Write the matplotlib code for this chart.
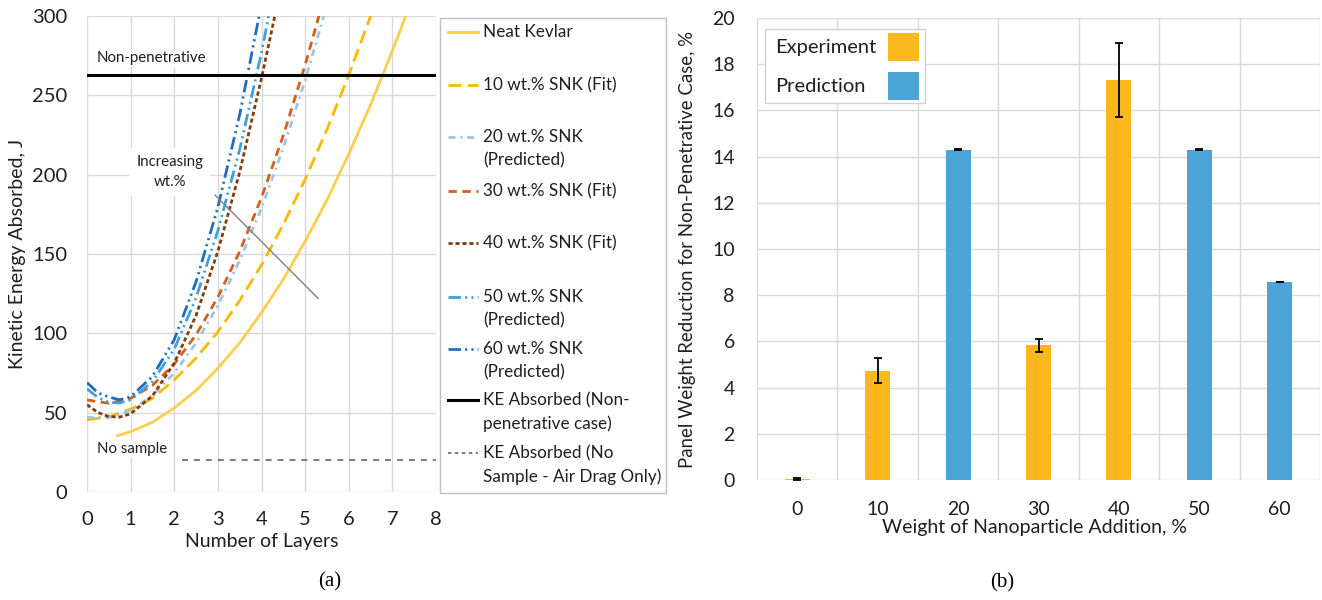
import matplotlib
matplotlib.use("Agg")
import matplotlib.pyplot as plt
from matplotlib.patches import Rectangle
import numpy as np

plt.rcParams["font.family"] = ["Lato", "DejaVu Sans"]
plt.rcParams["lines.scale_dashes"] = False

# ---- panel (a): kinetic energy absorbed vs number of layers ----
neat_x = [0.7, 1, 1.5, 2, 2.5, 3, 3.5, 4, 4.5, 5, 5.5, 6, 6.5, 7, 7.5]
neat_ke = [35.5, 38, 44, 53, 64, 78, 94, 113, 134, 158, 184, 213, 244, 278, 314]

wt10_x = [0, 0.5, 1, 1.5, 2, 2.5, 3, 3.5, 4, 4.5, 5, 5.5, 6, 6.5, 7]
wt10_ke = [45.5, 47.4, 52.2, 59.0, 70.7, 84.4, 101.0, 120.6, 143.1, 168.6, 197.0, 228.4, 262.7, 300.0, 340]

wt20_x = [0, 0.5, 1, 1.5, 2, 2.5, 3, 3.5, 4, 4.5, 5, 5.5]
wt20_ke = [47, 46.9, 51.5, 60.9, 75, 93.9, 117.5, 145.9, 179, 216.9, 259.5, 306.9]

wt30_x = [0, 0.5, 1, 1.5, 2, 2.5, 3, 3.5, 4, 4.5, 5, 5.5]
wt30_ke = [58, 55.9, 59, 67.2, 80.6, 99.1, 122.8, 151.6, 185.6, 224.7, 269, 318]

wt40_x = [0, 0.25, 0.5, 0.75, 1, 1.5, 2, 2.5, 3, 3.5, 4, 4.5]
wt40_ke = [55, 50.1, 47.5, 47.2, 49.3, 60.6, 81.2, 111.3, 151.7, 201.6, 260.8, 325]

wt50_x = [0, 0.25, 0.5, 0.75, 1, 1.5, 2, 2.5, 3, 3.5, 4, 4.5]
wt50_ke = [65, 59.5, 56.6, 56.1, 58.1, 69.6, 90, 122.4, 164.7, 215.9, 277, 347]

wt60_x = [0, 0.25, 0.5, 0.75, 1, 1.5, 2, 2.5, 3, 3.5, 4, 4.5]
wt60_ke = [69, 62.5, 59.9, 58.1, 60.1, 72.8, 96, 132.5, 179.5, 237.8, 307.6, 389]

nonpen_ke = 263
air_drag_ke = 20
air_drag_x = [2.17, 8]
trend_x = [2.94, 5.3]
trend_ke = [187, 122]

legend_a = ["Neat Kevlar", "10 wt.% SNK (Fit)", "20 wt.% SNK\n(Predicted)",
            "30 wt.% SNK (Fit)", "40 wt.% SNK (Fit)", "50 wt.% SNK\n(Predicted)",
            "60 wt.% SNK\n(Predicted)", "KE Absorbed (Non-\npenetrative case)",
            "KE Absorbed (No\nSample - Air Drag Only)"]

# ---- panel (b): panel weight reduction ----
wt_labels = ["0", "10", "20", "30", "40", "50", "60"]
reduction = [0.05, 4.73, 14.3, 5.84, 17.3, 14.3, 8.57]
reduction_err = [0.03, 0.55, 0.02, 0.28, 1.6, 0.02, 0.02]
kind = ["Experiment", "Experiment", "Prediction", "Experiment", "Experiment",
        "Prediction", "Prediction"]

W, H = 1322, 600
GRID = "#D9D9D9"
TXT = "#1F1F1F"
fig = plt.figure(figsize=(W / 100, H / 100), dpi=100)


def fax(x0, y0, x1, y1):
    # axes placed by pixel box (top-left origin)
    return fig.add_axes([x0 / W, 1 - y1 / H, (x1 - x0) / W, (y1 - y0) / H])


# ---------------- (a) ----------------
ax = fax(87, 16, 436, 492)
ax.set_xlim(0, 8)
ax.set_ylim(0, 300)
ax.set_xticks(range(0, 9))
ax.set_yticks(range(0, 301, 50))
ax.grid(color=GRID, lw=1)
ax.set_axisbelow(True)
for s in ax.spines.values():
    s.set_visible(False)
ax.tick_params(length=0, labelsize=14.5, labelcolor=TXT)
ax.tick_params(axis="y", pad=14)
ax.tick_params(axis="x", pad=14)

styles = [
    (neat_x, neat_ke, "#FFCC4D", "-"),
    (wt10_x, wt10_ke, "#FFB800", (0, (9.5, 4.5))),
    (wt20_x, wt20_ke, "#9DC3E6", (0, (5, 3.5, 1.5, 3.5))),
    (wt30_x, wt30_ke, "#D2601A", (0, (6, 4))),
    (wt40_x, wt40_ke, "#843C0C", (0, (3, 2))),
    (wt50_x, wt50_ke, "#3FA0DC", (0, (9, 3, 1.5, 3, 1.5, 3))),
    (wt60_x, wt60_ke, "#1F6EBE", (0, (9, 3, 1.5, 3, 1.5, 3))),
]
for x, y, c, ls in styles:
    ax.plot(x, y, color=c, ls=ls, lw=2)

ax.axhline(nonpen_ke, color="black", lw=2.2)
ax.plot(air_drag_x, [air_drag_ke] * 2, color="#7F7F7F", lw=1.5, ls=(0, (4.3, 4.3)))
ax.plot(trend_x, trend_ke, color="#808080", lw=1)

box = dict(facecolor="white", edgecolor="none", pad=1.5)
ax.text(0.23, 273.5, "Non-penetrative", fontsize=10.8, color=TXT, va="center", bbox=box)
ax.text(0.23, 27, "No sample", fontsize=10.8, color=TXT, va="center", bbox=box)
ax.text(1.9, 201.7, "Increasing\nwt.%", fontsize=10.8, color=TXT, ha="center",
        va="center", linespacing=1.5, bbox=dict(facecolor="white", edgecolor="none", pad=5))

fig.text(18 / W, 1 - 254 / H, "Kinetic Energy Absorbed, J", rotation=90,
         ha="center", va="center", fontsize=14, color=TXT)
fig.text(262 / W, 1 - 542 / H, "Number of Layers", ha="center", va="center",
         fontsize=14, color=TXT)
fig.text(330 / W, 1 - 582 / H, "(a)", ha="center", va="center", fontsize=15,
         family="Liberation Serif", color="black")

# manual legend for (a): handle aligned with first text line, Excel-style
lax = fax(440, 17, 666, 493)
lax.set_xlim(440, 666)
lax.set_ylim(493, 17)
lax.axis("off")
lax.add_patch(Rectangle((440.5, 17.5), 225, 475, fill=False, edgecolor="#BFBFBF",
                        lw=1, clip_on=False))
leg_styles = [(c, ls, 2) for _, _, c, ls in styles] + [
    ("black", "-", 2.2), ("#7F7F7F", (0, (2.5, 2.5)), 1.5)]
leg_y = [32, 85, 137, 191, 243, 297, 349, 400, 453]
for (c, ls, lw), lab, y0 in zip(leg_styles, legend_a, leg_y):
    lax.plot([448, 478], [y0, y0], color=c, ls=ls, lw=lw, clip_on=False)
    for i, line in enumerate(lab.split("\n")):
        lax.text(483, y0 + i * 23.5, line, fontsize=12.3, color=TXT, va="center")

# ---------------- (b) ----------------
bx = fax(757, 18, 1320, 480)
pos = np.arange(len(wt_labels))
cmap = {"Experiment": "#FBB81C", "Prediction": "#4AA4D6"}
bx.bar(pos, reduction, width=0.31, color=[cmap[k] for k in kind],
       yerr=reduction_err, error_kw=dict(ecolor="black", elinewidth=1.3,
                                         capsize=3, capthick=1.3))
bx.set_xlim(-0.5, 6.5)
bx.set_ylim(0, 20)
bx.set_yticks(range(0, 21, 2))
bx.set_xticks(pos)
bx.set_xticklabels(wt_labels)
bx.set_xticks(np.arange(-0.5, 7, 1), minor=True)
bx.grid(axis="y", color=GRID, lw=1)
bx.grid(axis="x", which="minor", color=GRID, lw=1)
bx.set_axisbelow(True)
for s in bx.spines.values():
    s.set_visible(False)
bx.tick_params(which="both", length=0, labelsize=14, labelcolor=TXT)
bx.tick_params(axis="y", pad=16)
bx.tick_params(axis="x", pad=15)

fig.text(687 / W, 1 - 249 / H, "Panel Weight Reduction for Non-Penetrative Case, %",
         rotation=90, ha="center", va="center", fontsize=13.4, color=TXT)
fig.text(1035 / W, 1 - 527 / H, "Weight of Nanoparticle Addition, %", ha="center",
         va="center", fontsize=14, color=TXT)
fig.text(1002 / W, 1 - 583 / H, "(b)", ha="center", va="center", fontsize=15,
         family="Liberation Serif", color="black")

# legend for (b): label first, swatch after
gx = fax(765, 29, 925, 103)
gx.set_xlim(765, 925)
gx.set_ylim(103, 29)
gx.axis("off")
gx.add_patch(Rectangle((765, 29), 160, 74, facecolor="white", edgecolor="#D0D0D0",
                       lw=1, clip_on=False))
for k, y0 in zip(["Experiment", "Prediction"], [47, 86]):
    gx.text(775, y0, k, fontsize=14.5, color=TXT, va="center")
    gx.add_patch(Rectangle((888, y0 - 14), 31, 28, facecolor=cmap[k], edgecolor="none"))

fig.savefig("out.png", dpi=100)
